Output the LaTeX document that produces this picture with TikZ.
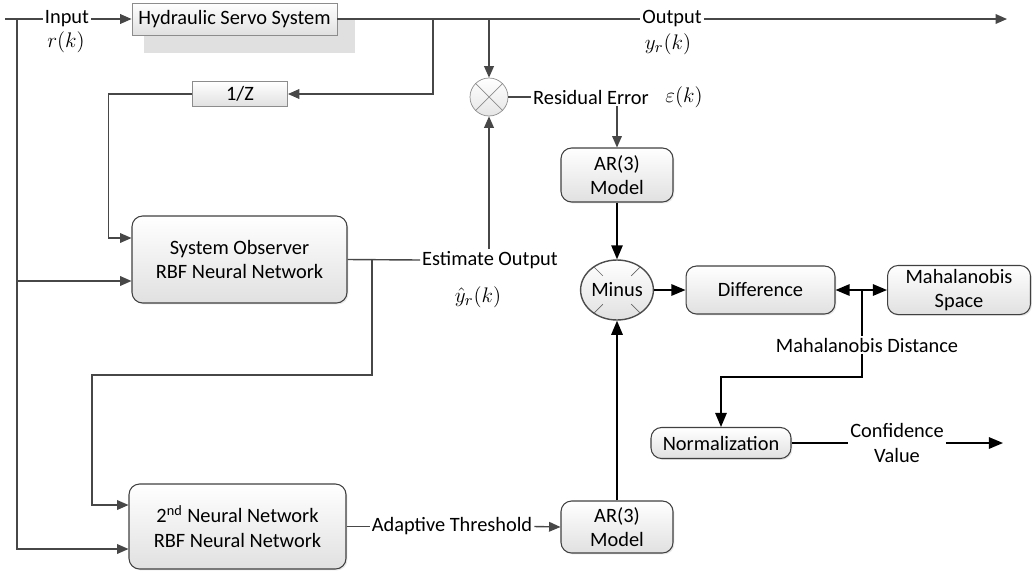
\documentclass[tikz,border=0pt]{standalone}
\usepackage{amsmath}
\usepackage{amssymb}
\usepackage{fontspec}
\setmainfont{Carlito}
\usetikzlibrary{calc,positioning,arrows.meta,shapes.geometric,shadows}

\tikzset{
  every node/.style={font=\fontsize{11.6}{14}\selectfont},
  line/.style={draw=black!72, line width=0.8pt},
  arr/.style={line, -{Triangle[length=6.5pt,width=5.5pt]}},
  barr/.style={draw=black, line width=0.9pt, -{Triangle[length=8pt,width=6.5pt]}},
  block/.style={draw=black!45, line width=0.5pt, top color=white, bottom color=black!12,
    align=center, inner sep=2pt},
  rblock/.style={block, draw=black!75, line width=0.6pt, rounded corners=6pt,
    drop shadow={opacity=0.18, shadow xshift=0.8pt, shadow yshift=-0.8pt}},
  lbl/.style={inner sep=1pt, align=center},
  mth/.style={font=\fontsize{12.5}{14}\selectfont},
}

\begin{document}
\begin{tikzpicture}[x=0.02cm, y=-0.02cm]
    \useasboundingbox (0,0) rectangle (1033,572);

    % plant block with its grey backdrop
    \fill[black!12] (144,20) rectangle (355,53);
    \node[block, minimum width=4.1cm, minimum height=0.64cm] (hss) at (234.5,19) {Hydraulic Servo System};

    \node[block, minimum width=1.9cm, minimum height=0.5cm] (invz) at (240,94) {1/Z};

    % multiplier
    \node[circle, draw=black!45, top color=white, bottom color=black!10,
      minimum size=0.76cm, inner sep=0pt] (mul) at (489,97) {};
    \draw[black!45] (mul.45) -- (mul.225) (mul.135) -- (mul.315);

    \node[rblock, minimum width=4.3cm, minimum height=1.74cm] (obs) at (239.5,259.5) {System Observer\\RBF Neural Network};
    \node[rblock, minimum width=4.34cm, minimum height=1.7cm] (nn2) at (237.5,526.5) {2\textsuperscript{nd} Neural Network\\RBF Neural Network};

    \node[rblock, minimum width=2.24cm, minimum height=1.08cm] (arA) at (617,175) {AR(3)\\Model};
    \node[rblock, minimum width=2.24cm, minimum height=1.04cm] (arB) at (617,527) {AR(3)\\Model};

    % subtractor
    \node[ellipse, draw=black!70, line width=0.8pt, top color=white, bottom color=black!12,
      minimum width=1.28cm, minimum height=1.2cm, inner sep=0pt] (minus) at (617,290) {Minus};
    \foreach \a in {45,135,225,315}
      \draw[black!60] (minus.\a) -- ($(minus.center)!0.6!(minus.\a)$);

    \node[rblock, minimum width=2.98cm, minimum height=0.96cm] (diff) at (760.5,290) {Difference};
    \node[rblock, minimum width=2.86cm, minimum height=0.96cm] (mspace) at (959,290) {Mahalanobis\\Space};
    \node[rblock, minimum width=2.8cm, minimum height=0.62cm] (norm) at (721,443) {Normalization};

    % signal labels
    \node[lbl] (inlbl) at (67,19) {Input};
    \node[mth] (rk) at (66,42) {$r(k)$};
    \node[lbl] (outlbl) at (672,19) {Output};
    \node[mth] (yk) at (668,44) {$y_r(k)$};
    \node[lbl] (reslbl) at (591,97) {Residual Error};
    \node[mth] (ek) at (684,97) {$\varepsilon(k)$};
    \node[lbl] (estlbl) at (490,260) {Estimate Output};
    \node[mth] (yhat) at (478,297) {$\hat{y}_r(k)$};
    \node[lbl] (adlbl) at (452,526.5) {Adaptive Threshold};
    \node[lbl] (mdlbl) at (867,345) {Mahalanobis Distance};
    \node[lbl] (cvlbl) at (897,443) {Confidence\\Value};

    \coordinate (src) at (5,19);
    \coordinate (tap) at (17,19);
    \coordinate (sink) at (1007,19);
    \coordinate (ta) at (433,19);
    \coordinate (tc) at (372,260);
    \coordinate (tcb) at (372,375);
    \coordinate (tcc) at (92,375);
    \coordinate (jn) at (862,290);
    \coordinate (jb) at (862,377);
    \coordinate (cvout) at (1003,443);
    \coordinate (obsup) at ([yshift=0.43cm]obs.west);
    \coordinate (obslow) at ([yshift=-0.43cm]obs.west);
    \coordinate (nn2up) at ([yshift=0.43cm]nn2.west);
    \coordinate (nn2low) at ([yshift=-0.45cm]nn2.west);

    % input and output path
    \draw[line] (src) -- (inlbl.west);
    \draw[arr] (inlbl.east) -- (hss.west);
    \draw[line] (hss.east) -- (outlbl.west);
    \draw[arr] (outlbl.east) -- (sink);

    % input fed to both networks
    \draw[arr] (tap) |- (nn2low);
    \draw[arr] (tap |- obslow) -- (obslow);

    % delayed output into the observer
    \draw[arr] (ta) |- (invz.east);
    \draw[arr] (invz.west) -| ([xshift=-0.46cm]obsup) -- (obsup);

    % residual
    \draw[arr] (mul |- hss.east) -- (mul.north);
    \draw[line] (mul.east) -- (reslbl.west);
    \draw[arr] (arA |- reslbl.south) -- (arA.north);

    % estimate output
    \draw[line] (obs.east) -- (estlbl.west);
    \draw[arr] (mul |- estlbl.north) -- (mul.south);
    \draw[arr] (tc) -- (tcb) -- (tcc) |- (nn2up);

    \draw[line] (nn2.east) -- (adlbl.west);
    \draw[arr] (adlbl.east) -- (arB.west);

    \draw[barr] (arA.south) -- (minus.north);
    \draw[barr] (arB.north) -- (minus.south);
    \draw[barr] (minus.east) -- (diff.west);

    % distance branch
    \draw[barr] (jn) -- (diff.east);
    \draw[barr] (jn) -- (mspace.west);
    \draw[draw=black, line width=0.9pt] (jn) -- (jn |- mdlbl.north);
    \draw[barr] (jn |- mdlbl.south) -- (jb) -| (norm.north);
    \draw[draw=black, line width=0.9pt] (norm.east) -- (cvlbl.west);
    \draw[barr] (cvlbl.east) -- (cvout);
\end{tikzpicture}
\end{document}
